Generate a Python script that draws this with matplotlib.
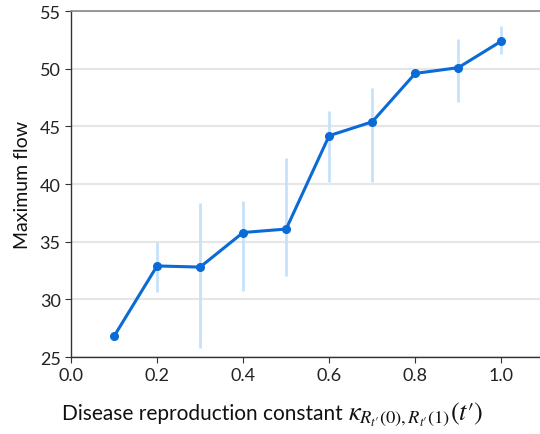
import matplotlib
matplotlib.use("Agg")
import matplotlib.pyplot as plt

kappa = [0.1, 0.2, 0.3, 0.4, 0.5, 0.6, 0.7, 0.8, 0.9, 1.0]
max_flow = [26.8, 32.9, 32.8, 35.8, 36.1, 44.2, 45.4, 49.6, 50.1, 52.4]
err_low = [26.8, 30.65, 25.8, 30.75, 32.05, 40.2, 40.2, 49.3, 47.1, 51.3]
err_high = [26.8, 35.0, 38.4, 38.5, 42.3, 46.3, 48.3, 49.9, 52.6, 53.7]
xticks = [0.0, 0.2, 0.4, 0.6, 0.8, 1.0]
yticks = [25, 30, 35, 40, 45, 50, 55]
xlabel_text = "Disease reproduction constant "
xlabel_math = r"$\kappa_{R_{t\prime}(0),R_{t\prime}(1)}(t\prime)$"

plt.rcParams['font.family'] = ['Lato', 'DejaVu Sans']
plt.rcParams['mathtext.fontset'] = 'stix'

fig = plt.figure(figsize=(5.4, 4.35), dpi=100)
ax = fig.add_axes([0.1315, 0.177, 0.8685, 0.795])

line_color = '#0a6ad6'
err_color = '#c6e2fa'

ax.vlines(kappa, err_low, err_high, color=err_color, linewidth=2, zorder=2)
ax.plot(kappa, max_flow, color=line_color, linewidth=2.2, marker='o', markersize=5.5, zorder=3)

ax.set_xlim(0, 1.09)
ax.set_ylim(25, 55)
ax.set_xticks(xticks)
ax.set_xticklabels([f"{t:.1f}" for t in xticks])
ax.set_yticks(yticks)
ax.grid(axis='y', color='#e6e6e6', linewidth=1.5, zorder=0)
ax.set_axisbelow(True)

for s in ['left', 'bottom']:
    ax.spines[s].set_color('#333333')
    ax.spines[s].set_linewidth(1.0)
ax.spines['top'].set_color('#888888')
ax.spines['top'].set_linewidth(1.2)
ax.spines['right'].set_visible(False)

ax.tick_params(axis='both', labelsize=13, length=4, color='#333333', labelcolor='#222222')
ax.set_ylabel('Maximum flow', fontsize=14, color='#111111', labelpad=6)

# two-part x label: plain text followed by larger math
base_y = 1 - 420 / 435
t1 = fig.text(62 / 540, base_y, xlabel_text, fontsize=15, color='#111111',
              ha='left', va='baseline')
fig.canvas.draw()
bb = t1.get_window_extent(renderer=fig.canvas.get_renderer())
x_end = bb.x1 / fig.bbox.width
fig.text(x_end, base_y, xlabel_math, fontsize=19, color='#111111',
         ha='left', va='baseline')

fig.savefig('out.png', dpi=100)
